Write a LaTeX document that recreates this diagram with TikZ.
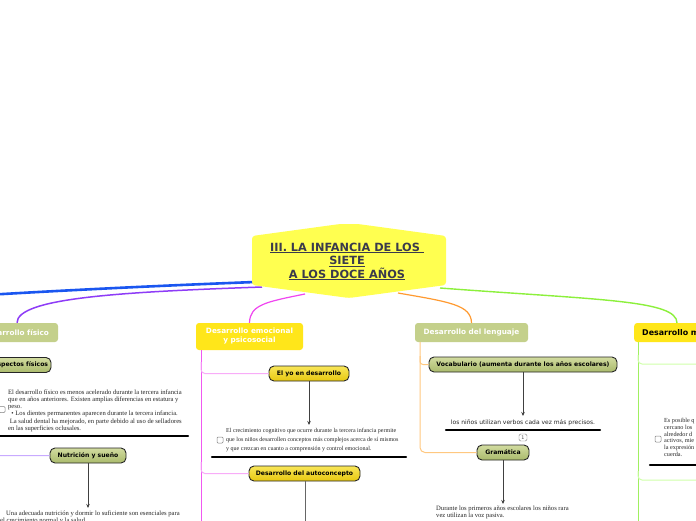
\documentclass[tikz,border=0pt]{standalone}
\usepackage{fontspec}
\setmainfont{Liberation Serif}
\setsansfont{DejaVu Sans}
\usetikzlibrary{arrows.meta}
\definecolor{hexy}{HTML}{FFFF50}
\definecolor{titlec}{HTML}{3A3A4C}
\definecolor{olive1}{HTML}{C4D08B}
\definecolor{yel1}{HTML}{FFE61A}
\definecolor{olTop}{HTML}{D2DCA0}
\definecolor{olBot}{HTML}{AABA6C}
\definecolor{yTop}{HTML}{F8E658}
\definecolor{yBot}{HTML}{E8C810}
\definecolor{cblue}{HTML}{1A56F0}
\definecolor{cpurp}{HTML}{8E3CF7}
\definecolor{cmag}{HTML}{F046F0}
\definecolor{corg}{HTML}{FF9A30}
\definecolor{cgrn}{HTML}{8CF03C}
\definecolor{lpurp}{HTML}{C8AAFF}
\definecolor{lmag}{HTML}{F8ACF8}
\definecolor{lorg}{HTML}{FFC880}
\definecolor{lgrn}{HTML}{D0FFAA}
\definecolor{mgrn}{HTML}{A0F060}
\tikzset{
 l1/.style={rounded corners=3pt, font=\sffamily\bfseries\fontsize{7.3}{9}\selectfont, text=white, inner sep=0pt, align=center},
 l1o/.style={l1, fill=olive1},
 l1y/.style={l1, fill=yel1},
 l2/.style={draw=black!85, line width=0.9pt, rounded corners=5pt, font=\sffamily\bfseries\fontsize{6.1}{7}\selectfont, inner sep=0pt, minimum height=15pt},
 l2o/.style={l2, top color=olTop, bottom color=olBot},
 l2y/.style={l2, top color=yTop, bottom color=yBot},
 body/.style={font=\fontsize{6.6}{7.2}\selectfont, align=left, inner sep=0pt, text=black!85},
 arr/.style={-{Stealth[length=4pt,width=3.5pt]}, line width=0.8pt, draw=black!75},
 bar/.style={line width=2.4pt, line cap=round},
 chk/.style={draw=gray, rounded corners=1pt, minimum size=6pt, inner sep=0pt, line width=0.5pt, fill=white},
}
\begin{document}
\begin{tikzpicture}[x=1pt,y=-1pt]
\useasboundingbox (0,0) rectangle (696,520);
\clip (0,0) rectangle (696,520);
\fill[white] (0,0) rectangle (696,520);

% level 1 nodes
\node[l1o, minimum width=85pt, minimum height=19pt] (fis) at (15.5,332.5) {Desarrollo físico};
\node[l1y, minimum width=107pt, minimum height=27pt] (emo) at (249.5,336.5) {Desarrollo emocional\\ y psicosocial};
\node[l1o, minimum width=113pt, minimum height=19pt] (len) at (471.5,332.5) {Desarrollo del lenguaje};
\node[l1y, text=black, font=\sffamily\bfseries\fontsize{7.9}{9}\selectfont, text width=90pt, minimum height=19pt, anchor=west, align=left, inner xsep=8pt] (mor) at (634,332.5) {Desarrollo moral};

% central connectors
\coordinate (offL) at (-30,296);
\coordinate (rB) at (255,282);
\coordinate (rP) at (262,287);
\coordinate (rM) at (305,294);
\coordinate (rO) at (398,293);
\coordinate (rG) at (440,288);
\draw[cblue, line width=2.6pt] (rB) .. controls (150,286) and (50,291) .. (offL);
\draw[cpurp, line width=1.5pt] (rP) .. controls (120,292) and (17,298) .. (fis.north -| 17,0);
\draw[cmag, line width=1.2pt] (rM) .. controls (265,302) and (250,305) .. (emo.north);
\draw[corg, line width=1.2pt] (rO) .. controls (450,302) and (471,305) .. (len.north);
\draw[cgrn, line width=1.4pt] (rG) .. controls (600,300) and (677,300) .. (677,323);

% central node
\fill[hexy, rounded corners=3pt] (252,236) -- (340,224) -- (358,224) -- (446,236) -- (446,285) -- (349,298) -- (252,285) -- cycle;
\node[align=center, font=\sffamily\bfseries\fontsize{11.3}{13.5}\selectfont, text=titlec] (root) at (347,261.5)
 {\underline{III. LA INFANCIA DE LOS\ }\\\underline{SIETE}\\\underline{A LOS DOCE AÑOS}};

% ---------- Desarrollo fisico
\node[l2o, minimum width=61pt] (asp) at (20.5,365) {Aspectos físicos};
\node[chk] (c1) at (2,409.5) {};
\node[body, anchor=north west] (t1) at (8,389.5)
 {El desarrollo físico es menos acelerado durante la tercera infancia\\
  que en años anteriores. Existen amplias diferencias en estatura y\\
  peso.\\
  \ \ • Los dientes permanentes aparecen durante la tercera infancia.\\
  \ La salud dental ha mejorado, en parte debido al uso de selladores\\
  en las superficies oclusales.};
\coordinate (b1a) at (0,436);
\coordinate (b1b) at (188,436);
\draw[bar] (b1a) -- (b1b);
\node[l2o, minimum width=76pt] (nut) at (88,455.5) {Nutrición y sueño};
\draw[lpurp, line width=1pt, rounded corners=4pt] (-8,440) |- (nut.west);
\node[body, anchor=north west] (t2) at (6,510.5)
 {Una adecuada nutrición y dormir lo suficiente son esenciales para\\
  \hspace*{-6pt}el crecimiento normal y la salud.};
\draw[arr] (nut.south) -- (88,508);

% ---------- Desarrollo emocional
\coordinate (emoEnd) at (201,530);
\draw[cmag!90, line width=1pt] (emo.south west -| 201,0) -- (emoEnd);
\node[l2y, minimum width=80pt] (yo) at (309,373.5) {El yo en desarrollo};
\draw[lmag, line width=1pt, rounded corners=4pt] (201,362) |- (yo.west);
\node[chk] (c2) at (220,440) {};
\node[body, anchor=north west, font=\fontsize{6}{9}\selectfont] (t3) at (226,428.5)
 {El crecimiento cognitivo que ocurre durante la tercera infancia permite\\
  que los niños desarrollen conceptos más complejos acerca de sí mismos\\
  y que crezcan en cuanto a comprensión y control emocional.};
\draw[arr] (yo.south) -- (309,425);
\coordinate (b2a) at (212,457);
\coordinate (b2b) at (406,457);
\draw[bar] (b2a) -- (b2b);
\node[l2y, minimum width=111pt] (auto) at (304.5,473.5) {Desarrollo del autoconcepto};
\draw[lmag, line width=1pt, rounded corners=4pt] (201,462) |- (auto.west);
\coordinate (autoEnd) at (305,530);
\draw[black!60, line width=0.9pt] (auto.south -| 305,0) -- (autoEnd);

% ---------- Desarrollo del lenguaje
\node[l2o, minimum width=188pt] (voc) at (523,364.5) {Vocabulario (aumenta durante los años escolares)};
\draw[lorg, line width=1pt, rounded corners=3pt] (420,356) |- (voc.west);
\node[l2o, minimum width=52pt] (gram) at (503,452.5) {Gramática};
\draw[lorg, line width=1pt, rounded corners=5pt] (len.south -| 420,0) |- (gram.west);
\node[font=\sffamily\fontsize{6}{7}\selectfont, text=black!85, inner sep=0pt] (t4) at (523,423) {los niños utilizan verbos cada vez más precisos.};
\draw[arr] (voc.south) -- (523,416);
\coordinate (b3a) at (446,430);
\coordinate (b3b) at (600,430);
\draw[bar] (b3a) -- (b3b);
\node[draw=gray, rounded corners=1.5pt, minimum width=8pt, minimum height=7pt, inner sep=0pt, font=\sffamily\fontsize{4.8}{5}\selectfont, text=black!70] (one) at (523,437.5) {1};
\node[body, anchor=north west] (t5) at (436,506)
 {Durante los primeros años escolares los niños rara\\
  vez utilizan la voz pasiva.};
\draw[arr] (gram.south) -- (503,504);

% ---------- Desarrollo moral
\coordinate (morEnd) at (638,530);
\draw[mgrn, line width=1pt] (mor.south west -| 638,0) -- (morEnd);
\coordinate (m1) at (700,364);
\draw[lgrn, line width=1pt, rounded corners=4pt] (638,355) |- (m1);
\coordinate (m2) at (700,480);
\draw[lgrn, line width=1pt, rounded corners=4pt] (638,471) |- (m2);
\node[chk] (c3) at (658,439) {};
\node[body, anchor=north west, font=\fontsize{6.2}{6.8}\selectfont] (t6) at (664,418)
 {Es posible q\\ cercano los\\ alrededor d\\ activos, mie\\ la expresión\\ cuerda.};
\coordinate (b4a) at (650,465);
\coordinate (b4b) at (700,465);
\draw[bar] (b4a) -- (b4b);
\end{tikzpicture}
\end{document}
